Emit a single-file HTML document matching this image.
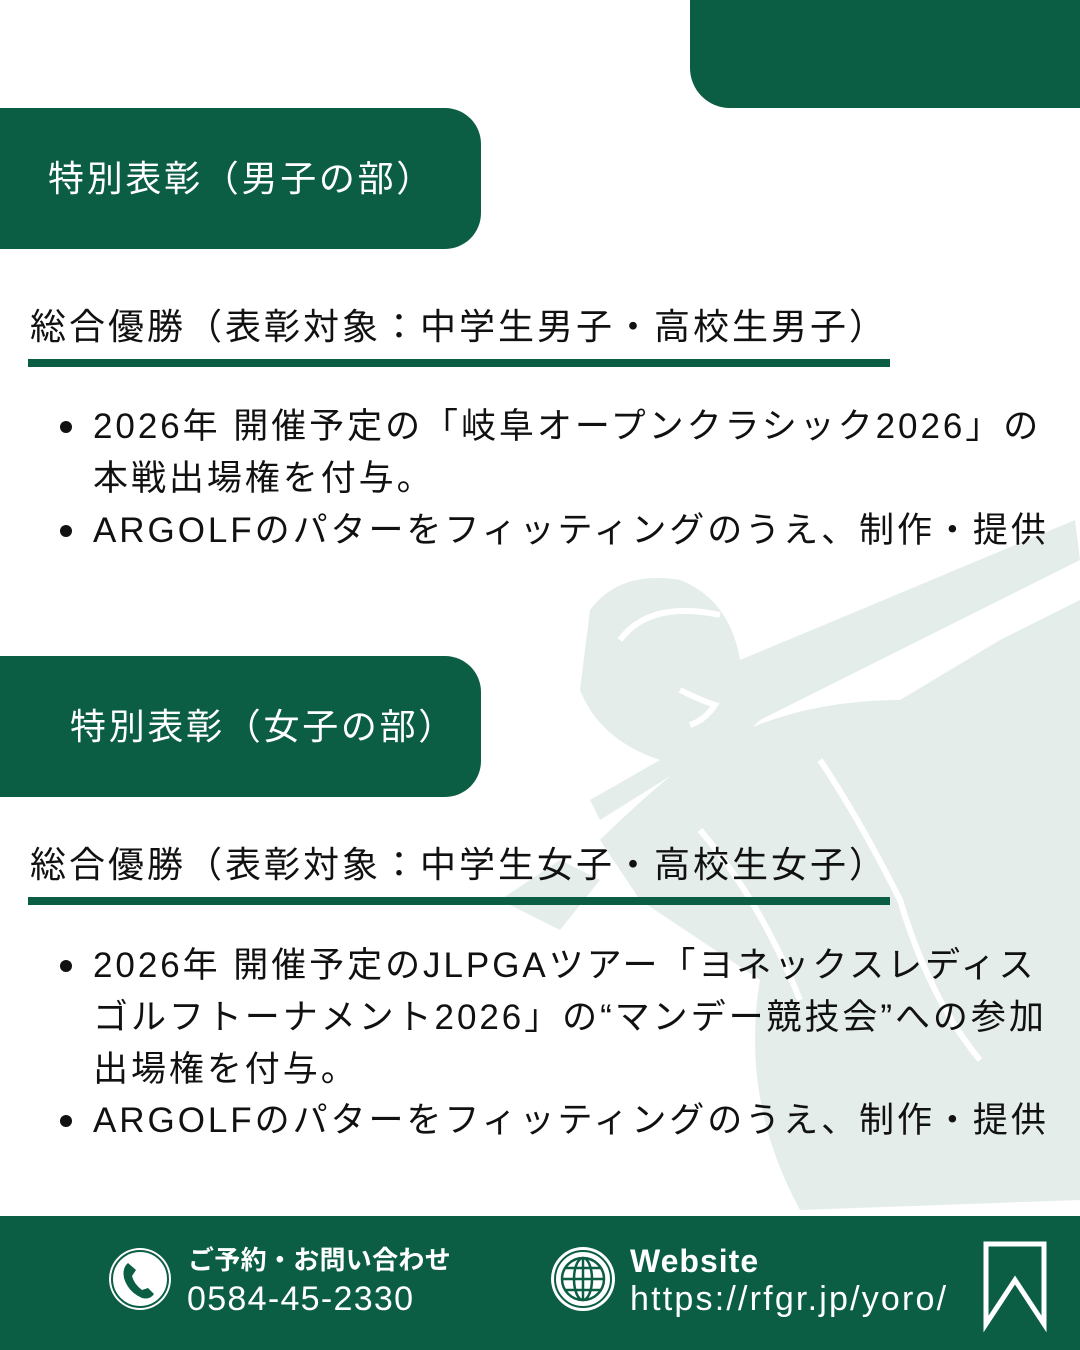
<!DOCTYPE html>
<html><head><meta charset="utf-8"><style>
*{margin:0;padding:0;box-sizing:border-box}
body{width:1080px;height:1350px;position:relative;background:#fff;overflow:hidden;font-family:"Liberation Sans","Noto Sans CJK JP",sans-serif;color:#111}
.g{background:#0b5e44;position:absolute}
.t{position:absolute;white-space:nowrap}
.box{left:0;width:481px;height:141px;border-radius:0 36px 36px 0;color:#fff;font-size:36px;line-height:141px;letter-spacing:2.7px}
.h{font-size:36px;left:30px;letter-spacing:3px}
.ln{left:28px;width:862px;height:8px}
.b{font-size:35px;left:93px;line-height:52px;letter-spacing:2.95px}
.dot{position:absolute;width:12px;height:12px;border-radius:50%;background:#111;left:60px}
</style></head><body>
<svg style="position:absolute;left:0;top:0" width="1080" height="1350">
<g fill="#e4ede9">
<path d="M590 610 Q620 570 680 580 Q730 600 740 660 L1075 520 L1080 560 L760 720 Q720 760 680 770 L600 820 L590 800 L660 760 Q600 740 580 690 Z"/>
<path d="M690 760 Q780 700 900 700 L1000 640 L1080 600 L1080 1200 L800 1210 Q740 1100 760 980 Q700 940 640 900 L600 840 Q640 800 690 760 Z"/>
<path d="M500 900 L560 860 L600 880 L560 930 Z"/>
</g>
<g fill="none" stroke="#fff" stroke-width="6">
<path d="M620 640 Q650 600 720 615"/><path d="M680 690 Q700 700 715 705 Q705 720 690 725"/>
<path d="M820 760 Q860 820 900 900 Q930 1000 980 1060"/><path d="M700 830 Q760 900 800 1000"/>
</g>
</svg>
<div class="g" style="left:690px;top:0;width:390px;height:108px;border-radius:0 0 0 40px"></div>

<div class="g box" style="top:108px;padding-left:48px">特別表彰（男子の部）</div>
<div class="t h" style="top:298px">総合優勝（表彰対象：中学生男子・高校生男子）</div>
<div class="g ln" style="top:359px"></div>
<div class="dot" style="top:421px"></div>
<div class="t b" style="top:401px">2026年 開催予定の「岐阜オープンクラシック2026」の<br>本戦出場権を付与。</div>
<div class="dot" style="top:525px"></div>
<div class="t b" style="top:505px">ARGOLFのパターをフィッティングのうえ、制作・提供</div>

<div class="g box" style="top:656px;padding-left:70px">特別表彰（女子の部）</div>
<div class="t h" style="top:836px">総合優勝（表彰対象：中学生女子・高校生女子）</div>
<div class="g ln" style="top:897px"></div>
<div class="dot" style="top:960px"></div>
<div class="t b" style="top:940px">2026年 開催予定のJLPGAツアー「ヨネックスレディス<br>ゴルフトーナメント2026」の“マンデー競技会”への参加<br>出場権を付与。</div>
<div class="dot" style="top:1115px"></div>
<div class="t b" style="top:1095px">ARGOLFのパターをフィッティングのうえ、制作・提供</div>

<div class="g" style="left:0;top:1216px;width:1080px;height:134px"></div>
<svg style="position:absolute;left:0;top:1216px" width="1080" height="134">
<circle cx="140" cy="63" r="31" fill="#fff"/><circle cx="140" cy="63" r="28" fill="none" stroke="#0b5e44" stroke-width="2"/>
<path d="M128 47 Q122 52 124 62 Q128 76 142 82 Q150 84 154 78 L148 72 L142 74 Q134 68 132 60 L136 54 Z" fill="#0b5e44"/>
<circle cx="583" cy="63" r="32" fill="#fff"/><circle cx="583" cy="63" r="28" fill="none" stroke="#0b5e44" stroke-width="2"/>
<g fill="none" stroke="#0b5e44" stroke-width="2.5"><circle cx="583" cy="63" r="21"/><ellipse cx="583" cy="63" rx="9" ry="21"/><line x1="583" y1="42" x2="583" y2="84"/><line x1="562" y1="63" x2="604" y2="63"/><line x1="565" y1="52" x2="601" y2="52"/><line x1="565" y1="74" x2="601" y2="74"/></g>
<path d="M986 28 L1044 28 L1044 108 L1015 64 L986 108 Z" fill="none" stroke="#fff" stroke-width="5"/>
</svg>
<div class="t" style="left:188px;top:1240px;color:#fff;font-size:26px;font-weight:bold;letter-spacing:0.3px">ご予約・お問い合わせ</div>
<div class="t" style="left:187px;top:1280px;color:#fff;font-size:34px;letter-spacing:1.3px">0584-45-2330</div>
<div class="t" style="left:630px;top:1243px;color:#fff;font-size:32px;font-weight:bold;letter-spacing:1px">Website</div>
<div class="t" style="left:630px;top:1280px;color:#fff;font-size:34px;letter-spacing:2.2px">https://rfgr.jp/yoro/</div>
</body></html>
